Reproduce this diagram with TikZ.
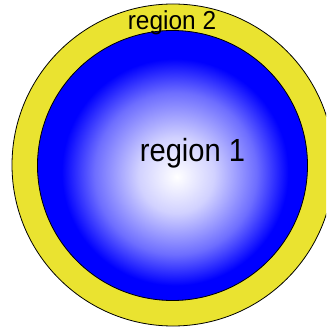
\documentclass[tikz,border=0pt]{standalone}
\usepackage{fontspec}
\newfontfamily\regionfont[FakeStretch=0.91]{Liberation Sans}
\newfontfamily\regionfontb[FakeStretch=0.94]{Liberation Sans}
\definecolor{ringyellow}{RGB}{234,227,48}
\definecolor{sphereblue}{RGB}{0,0,255}
\pgfdeclareradialshading{spherefill}{\pgfpoint{0.8bp}{-2.1bp}}{%
  color(0bp)=(white);
  color(7bp)=(sphereblue!18!white);
  color(15bp)=(sphereblue!57!white);
  color(21bp)=(sphereblue);
  color(25bp)=(sphereblue);
  color(50bp)=(sphereblue)}
\tikzset{
  ring/.style={draw=black, line width=0.8pt, fill=ringyellow},
  sphere/.style={draw=black, line width=0.8pt, shading=spherefill},
  label1/.style={inner sep=0pt, anchor=base, font=\regionfont\fontsize{32}{36}\selectfont},
  label2/.style={inner sep=0pt, anchor=base, font=\regionfontb\fontsize{26}{30}\selectfont}
}
\begin{document}
\begin{tikzpicture}[x=1pt,y=-1pt]
\useasboundingbox (0,0) rectangle (326,328);
\clip (0,0) rectangle (326,328);
\fill[white] (0,0) rectangle (326,328);
\path[ring] (173,165) circle[radius=161];
\path[sphere] (172.5,165.5) circle[radius=135];
\node[label2] (r2) at (172,30) {region 2};
\node[label1] (r1) at (192.5,162) {region 1};
\end{tikzpicture}
\end{document}
